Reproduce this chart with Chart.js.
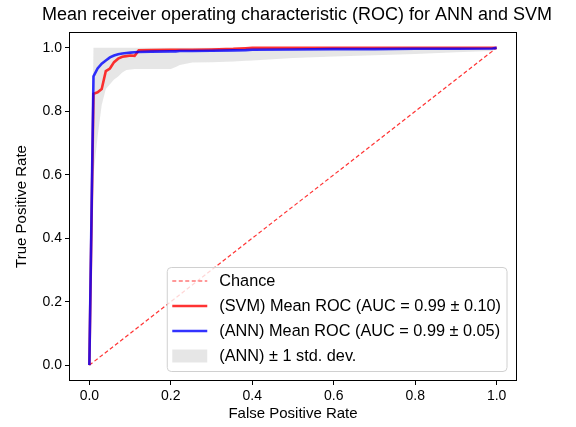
<!DOCTYPE html>
<html>
<head>
<meta charset="utf-8">
<title>Mean ROC for ANN and SVM</title>
<script src="https://cdn.jsdelivr.net/npm/chart.js@4.4.1/dist/chart.umd.min.js"></script>
<style>
  html, body { margin: 0; padding: 0; background: #fff; }
  #grafica { display: block; }
</style>
</head>
<body>
<canvas id="grafica" width="576" height="427"></canvas>
<script>
// datos
const fpr = [0, 0.0101, 0.0202, 0.0303, 0.0404, 0.0505, 0.0606, 0.0707, 0.0808, 0.0909,
  0.101, 0.1111, 0.1212, 0.1515, 0.2, 0.2121, 0.2222, 0.2525, 0.3, 0.3535,
  0.3838, 0.4, 0.5, 0.6, 0.7, 0.8, 0.9, 0.9899, 1.0];
const tprAnn = [0, 0.91, 0.935, 0.95, 0.96, 0.97, 0.976, 0.98, 0.982, 0.984,
  0.985, 0.986, 0.987, 0.988, 0.989, 0.989, 0.99, 0.99, 0.991, 0.992,
  0.993, 0.994, 0.995, 0.996, 0.996, 0.997, 0.997, 0.998, 1.0];
const tprSvm = [0, 0.855, 0.86, 0.87, 0.927, 0.935, 0.955, 0.966, 0.972, 0.974,
  0.976, 0.975, 0.992, 0.993, 0.994, 0.994, 0.994, 0.994, 0.995, 0.997,
  0.999, 1.0, 1.0, 1.0, 1.0, 1.0, 1.0, 1.0, 1.0];
const annLower = [0, 0.6, 0.72, 0.82, 0.87, 0.885, 0.9, 0.91, 0.922, 0.93,
  0.932, 0.933, 0.933, 0.933, 0.933, 0.94, 0.946, 0.954, 0.955, 0.957,
  0.959, 0.96, 0.968, 0.973, 0.977, 0.981, 0.986, 0.99, 1.0];
const annUpper = [0, 1, 1, 1, 1, 1, 1, 1, 1, 1,
  1, 1, 1, 1, 1, 1, 1, 1, 1, 1,
  1, 1, 1, 1, 1, 1, 1, 1, 1];
const chanceX = [0, 1];
const chanceY = [0, 1];
const axisTicks = [0, 0.2, 0.4, 0.6, 0.8, 1.0];
const titulo = 'Mean receiver operating characteristic (ROC) for ANN and SVM';
const legendLabels = [
  'Chance',
  '(SVM) Mean ROC (AUC = 0.99 \u00b1 0.10)',
  '(ANN) Mean ROC (AUC = 0.99 \u00b1 0.05)',
  '(ANN) \u00b1 1 std. dev.'
];

const FONT = "'Liberation Sans', Arial, sans-serif";
const RED = 'rgba(255,0,0,0.8)';
const BLUE = 'rgba(0,0,255,0.8)';
const GREY = 'rgba(128,128,128,0.2)';

function pts(xs, ys) {
  return xs.map((x, i) => ({ x: x, y: ys[i] }));
}

document.addEventListener('DOMContentLoaded', function () {
  const canvas = document.getElementById('grafica');
  if (!canvas || typeof Chart === 'undefined') {
    console.warn('Chart.js o #grafica no disponible');
    return;
  }

  // marco completo (estilo matplotlib), título centrado sobre el área y leyenda abajo a la derecha
  const marco = {
    id: 'marco',
    afterDatasetsDraw(chart) {
      const a = chart.chartArea, c = chart.ctx;
      c.save();
      c.strokeStyle = '#000';
      c.lineWidth = 1;
      c.strokeRect(Math.round(a.left) + 0.5, Math.round(a.top) + 0.5,
        Math.round(a.right - a.left) - 1, Math.round(a.bottom - a.top) - 1);
      c.restore();
    },
    afterDraw(chart) {
      const a = chart.chartArea, c = chart.ctx;
      c.save();
      c.fillStyle = '#000';
      c.font = '18px ' + FONT;
      c.textAlign = 'center';
      c.textBaseline = 'middle';
      c.fillText(titulo, (a.left + a.right) / 2 + 4, 15);
      c.textAlign = 'left';

      c.font = '16.3px ' + FONT;
      const maxW = Math.max(...legendLabels.map(t => c.measureText(t).width));
      const w = 5 + 35 + 12 + maxW + 6;
      const h = 104;
      const right = a.right - 10, bottom = a.bottom - 9.5;
      const left = right - w, top = bottom - h;
      c.beginPath();
      c.roundRect(left, top, w, h, 4);
      c.fillStyle = 'rgba(255,255,255,0.8)';
      c.fill();
      c.strokeStyle = '#d0d0d0';
      c.lineWidth = 1;
      c.stroke();
      const hx = left + 5, tx = left + 52;
      legendLabels.forEach((t, i) => {
        const y = top + 13.5 + i * 25;
        if (i === 3) {
          c.fillStyle = GREY;
          c.fillRect(hx, y - 6.5, 35, 13);
        } else {
          c.beginPath();
          c.setLineDash(i === 0 ? [4, 2.5] : []);
          c.lineWidth = i === 0 ? 1.2 : 2.6;
          c.strokeStyle = i === 2 ? BLUE : RED;
          c.moveTo(hx, y);
          c.lineTo(hx + 35, y);
          c.stroke();
          c.setLineDash([]);
        }
        c.fillStyle = '#000';
        c.textBaseline = 'middle';
        c.fillText(t, tx, y + 1);
      });
      c.restore();
    }
  };

  const ejeComun = {
    type: 'linear',
    min: -0.05,
    max: 1.05,
    afterBuildTicks: s => { s.ticks = axisTicks.map(v => ({ value: v })); },
    grid: { drawOnChartArea: false, drawTicks: true, tickLength: 4, color: '#000' },
    border: { display: false },
    ticks: { color: '#000', font: { family: FONT, size: 14 }, callback: v => v.toFixed(1) }
  };

  new Chart(canvas.getContext('2d'), {
    type: 'line',
    data: {
      datasets: [
        { label: legendLabels[0], data: pts(chanceX, chanceY), borderColor: RED, borderWidth: 1.2,
          borderDash: [4, 2.5], pointRadius: 0, fill: false, order: 3 },
        { label: legendLabels[1], data: pts(fpr, tprSvm), borderColor: RED, borderWidth: 2.6,
          pointRadius: 0, fill: false, order: 2 },
        { label: legendLabels[2], data: pts(fpr, tprAnn), borderColor: BLUE, borderWidth: 2.6,
          pointRadius: 0, fill: false, order: 1 },
        { label: legendLabels[3], data: pts(fpr, annUpper), borderWidth: 0, borderColor: 'transparent',
          backgroundColor: GREY, pointRadius: 0, fill: '+1', order: 5 },
        { label: 'lower', data: pts(fpr, annLower), borderWidth: 0, borderColor: 'transparent',
          pointRadius: 0, fill: false, order: 5 }
      ]
    },
    options: {
      responsive: false,
      animation: false,
      devicePixelRatio: 1,
      layout: { padding: { left: 0, right: 59, top: 32, bottom: 0 } },
      plugins: {
        legend: { display: false },
        tooltip: { enabled: false },
        title: { display: false }
      },
      scales: {
        x: Object.assign({}, ejeComun, {
          afterFit: s => { s.height = 46; },
          title: { display: true, text: 'False Positive Rate', color: '#000',
            font: { family: FONT, size: 15 }, padding: { top: 0, bottom: 4 } }
        }),
        y: Object.assign({}, ejeComun, {
          afterFit: s => { s.width = 69; },
          title: { display: true, text: 'True Positive Rate', color: '#000',
            font: { family: FONT, size: 15 }, padding: { top: 13, bottom: 0 } }
        })
      }
    },
    plugins: [marco]
  });
});
</script>
</body>
</html>
